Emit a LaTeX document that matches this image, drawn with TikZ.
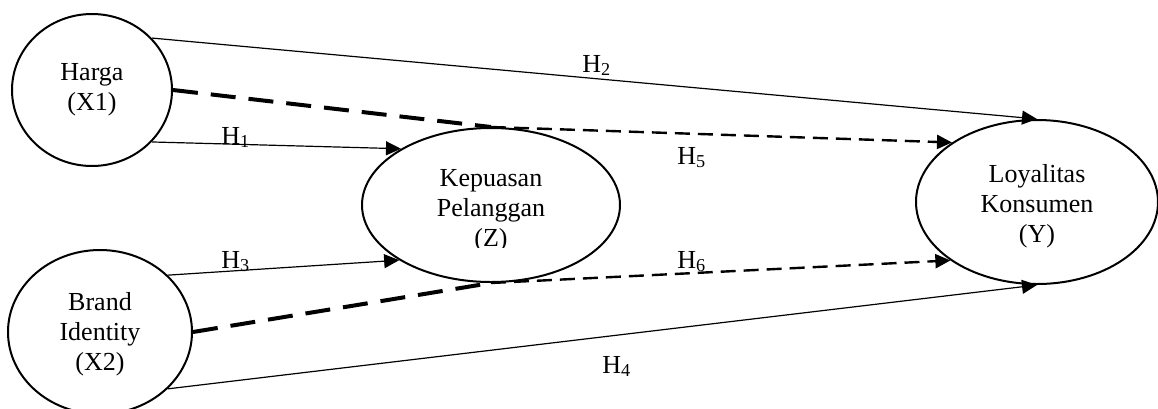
\documentclass[tikz,border=0pt]{standalone}
\usepackage{fontspec}
\setmainfont{Liberation Serif}
\usetikzlibrary{shapes.geometric,arrows.meta}
\begin{document}
\begin{tikzpicture}[x=0.5pt,y=-0.5pt,
  txt/.style={font=\fontsize{13}{15}\selectfont},
  var/.style={draw,ellipse,line width=1pt,inner sep=0pt,align=center,txt},
  hlab/.style={anchor=base west,inner sep=0pt,txt},
  link/.style={line width=0.6pt,-{Triangle[length=7.5pt,width=7pt]}},
  thickdash/.style={line width=2pt,dash pattern=on 12.5pt off 6.5pt},
  thindash/.style={line width=1.2pt,dash pattern=on 7.5pt off 4pt,-{Triangle[length=7.5pt,width=7pt]}}
]
\clip (0,0) rectangle (1158,408);
\node[var,minimum width=80pt,minimum height=76pt] (harga) at (92,90) {Harga\\(X1)};
\node[var,minimum width=92pt,minimum height=82pt] (brand) at (100,332) {\rule{0pt}{11pt}Brand\\Identity\\(X2)};
\node[var,minimum width=129pt,minimum height=77pt] (kep) at (491,205) {};
\begin{scope}
  \clip (362,128) rectangle (620,247);
  \node[txt,align=center,inner sep=0pt] (keptext) at (491,211) {Kepuasan\\Pelanggan\\(Z)};
\end{scope}
\node[var,minimum width=121pt,minimum height=82pt] (loy) at (1037,202) {\rule{0pt}{13pt}Loyalitas\\Konsumen\\(Y)};

\draw[link] (harga.41.5) -- (loy.north);
\draw[link] (harga.-41.5) -- (kep.148.9);
\draw[link] (brand.40.5) -- (kep.211);
\draw[link] (brand.-40) -- (loy.south);
\draw[thickdash] (harga.east) -- (kep.north);
\draw[thindash] (kep.north) -- (loy.145.9);
\draw[thickdash] (brand.east) -- (kep.south);
\draw[thindash] (kep.south) -- (loy.214.6);

\node[hlab] (h2) at (582,72) {H\textsubscript{2}};
\node[hlab] (h1) at (221,144) {H\textsubscript{1}};
\node[hlab] (h5) at (677,164) {H\textsubscript{5}};
\node[hlab] (h3) at (221,268) {H\textsubscript{3}};
\node[hlab] (h6) at (677,268) {H\textsubscript{6}};
\node[hlab] (h4) at (602,373) {H\textsubscript{4}};
\end{tikzpicture}
\end{document}
